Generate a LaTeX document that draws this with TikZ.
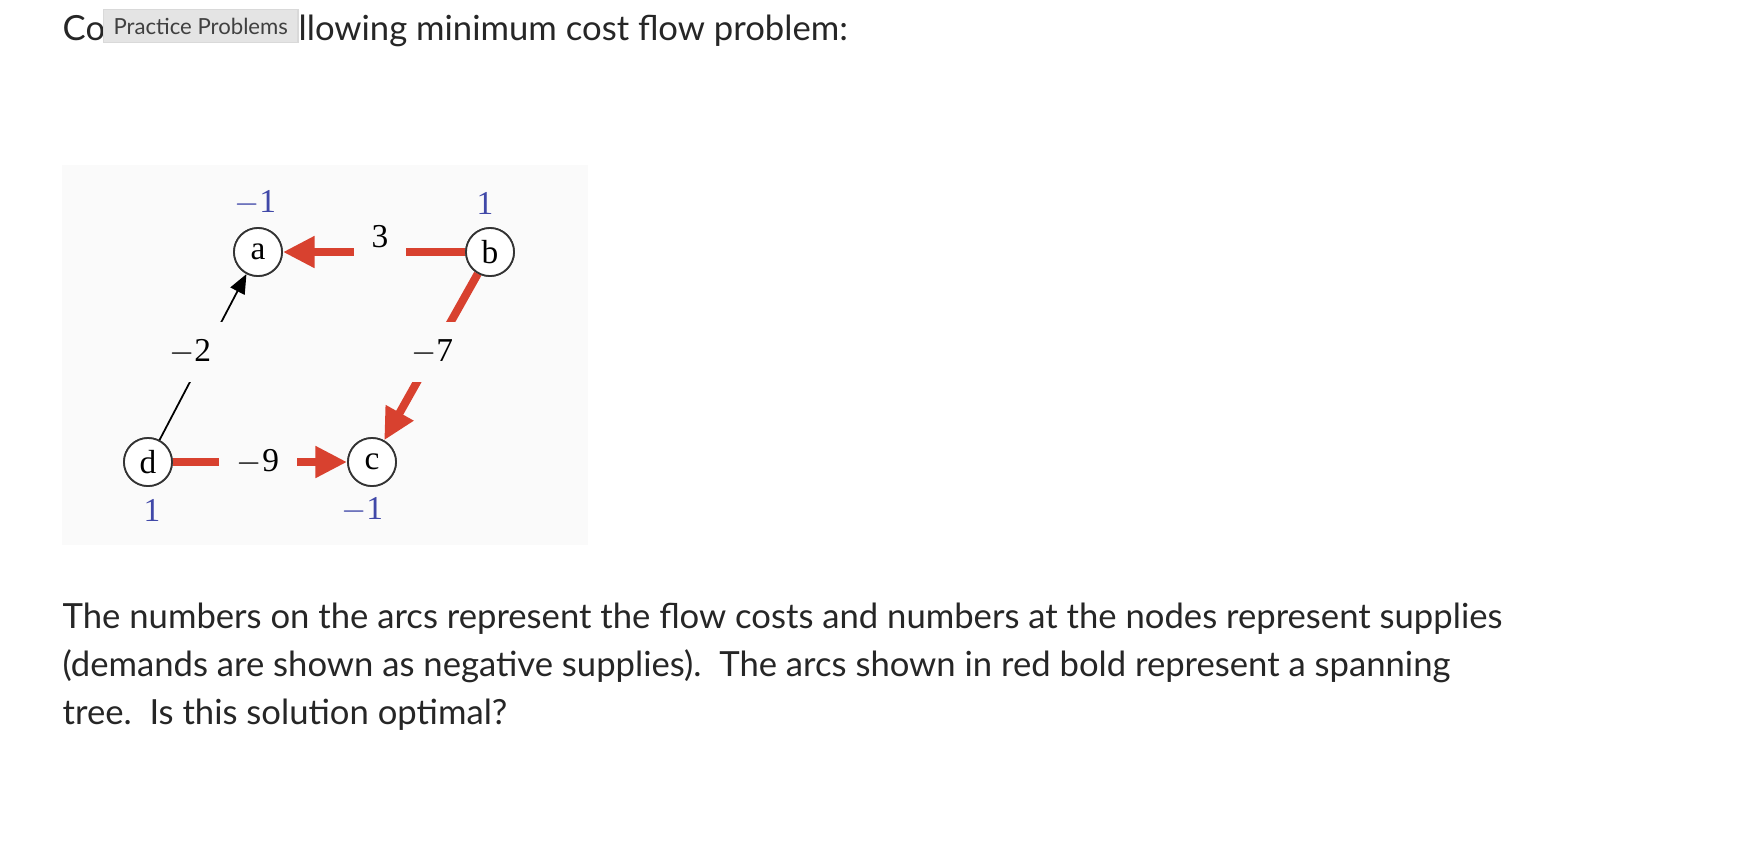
\documentclass[tikz,border=0pt]{standalone}
\usepackage{fontspec}
\setmainfont{Lato}
\newfontfamily\serifdg{Liberation Serif}
\usetikzlibrary{arrows.meta}
\definecolor{bgg}{HTML}{FAFAFA}
\definecolor{arcred}{HTML}{D8412F}
\definecolor{supblue}{HTML}{4048A8}
\definecolor{boxg}{HTML}{E4E4E4}
\begin{document}
\begin{tikzpicture}[x=0.01cm,y=-0.01cm,
  txt/.style={font=\fontsize{9.85pt}{13pt}\selectfont,text=black!85,inner sep=0,anchor=base west},
  vtx/.style={circle,draw=black!80,line width=0.5pt,minimum size=0.48cm,inner sep=0,font=\serifdg\fontsize{9.5pt}{11pt}\selectfont,fill=white},
  sup/.style={font=\serifdg\fontsize{9.5pt}{11pt}\selectfont,text=supblue},
  cost/.style={font=\serifdg\fontsize{9.5pt}{11pt}\selectfont,fill=bgg,inner sep=5pt},
  tree/.style={draw=arcred,line width=2.3pt,-{Triangle[length=9pt,width=8.5pt]}},
  thin/.style={draw=black,line width=0.5pt,-{Triangle[length=5.5pt,width=4.5pt]}}]
\useasboundingbox (0,0) rectangle (1748,856);
\fill[white] (0,0) rectangle (1748,856);
% title
\node[txt] (t1) at (62,40) {Co};
\node[txt] (t2) at (298,40) {llowing minimum cost flow problem:};
\node[fill=boxg,draw=black!15,minimum width=1.94cm,minimum height=0.33cm,inner sep=0,anchor=north west,
  font=\fontsize{6.3pt}{7pt}\selectfont,text=black!75] (pp) at (103,9) {Practice Problems};
% diagram
\fill[bgg] (62,165) rectangle (588,545);
\node[vtx] (a) at (258,252) {a};
\node[vtx] (b) at (490,252) {b};
\node[vtx] (d) at (148,462) {d};
\node[vtx] (c) at (372,462) {c};
\draw[thin] (d) -- (a);
\node[cost] (l2) at (190,352) {$-$2};
\draw[tree] (b) -- (a);
\node[cost] (l3) at (380,237) {3};
\draw[tree] (b) -- (c);
\node[cost] (l7) at (432,352) {$-$7};
\draw[tree] (d) -- (c);
\node[cost] (l9) at (258,462) {$-$9};
\node[vtx] at (a) {a};
\node[vtx] at (b) {b};
\node[vtx] at (c) {c};
\node[vtx] at (d) {d};
\node[sup] (sa) at (255,203) {$-$1};
\node[sup] (sb) at (485,203) {1};
\node[sup] (sd) at (152,510) {1};
\node[sup] (sc) at (362,510) {$-$1};
% body
\node[txt] (b1) at (62,628) {The numbers on the arcs represent the flow costs and numbers at the nodes represent supplies};
\node[txt] (b2) at (62,676) {(demands are shown as negative supplies).\ \ The arcs shown in red bold represent a spanning};
\node[txt] (b3) at (62,724) {tree.\ \ Is this solution optimal?};
\end{tikzpicture}
\end{document}
